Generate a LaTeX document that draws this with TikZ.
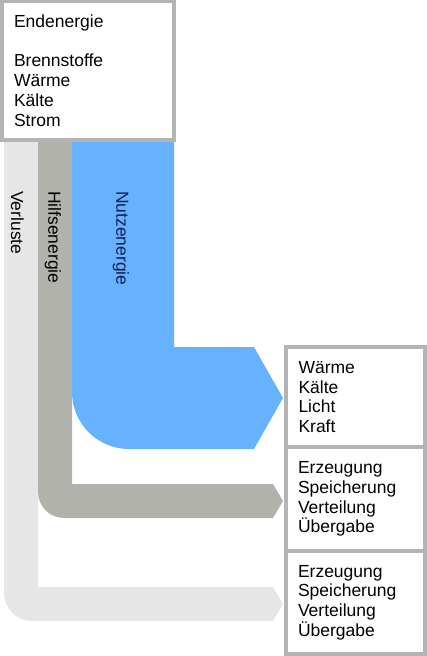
\documentclass[tikz,border=0pt]{standalone}
\usepackage{fontspec}
\setmainfont{Liberation Sans}
\usetikzlibrary{positioning}
\definecolor{nutzblue}{RGB}{102, 178, 255}
\definecolor{hilfgray}{RGB}{178, 178, 172}
\definecolor{verlustgray}{RGB}{230, 230, 230}
\definecolor{boxgray}{RGB}{180, 180, 180}
\definecolor{navy}{RGB}{20, 30, 90}
\def\rnutz{57}
\def\rhilf{26}
\def\rverl{28}
\tikzset{
  kasten/.style={draw=boxgray, line width=4pt, fill=white, outer sep=0pt,
    inner ysep=0pt, align=left, font=\fontsize{17.5}{19.7}\selectfont},
  bandlabel/.style={font=\fontsize{17.5}{19.7}\selectfont, rotate=-90,
    anchor=west, inner sep=0pt}
}
\begin{document}
\begin{tikzpicture}[x=1pt, y=-1pt, line cap=round]

                 \useasboundingbox (0, 0) rectangle (427, 656);

                 \path[fill=verlustgray] (4, 141) -- (38, 141) -- (38, 587)
                 -- (273, 587) -- (283, 604) -- (273, 621)
                 -- (4 + \rverl, 621)
                 arc[start angle=90, end angle=180, radius=\rverl] -- cycle;

                 \path[fill=hilfgray] (38, 141) -- (72, 141) -- (72, 484)
                 -- (273, 484) -- (283, 501) -- (273, 518)
                 -- (38 + \rhilf, 518)
                 arc[start angle=90, end angle=180, radius=\rhilf] -- cycle;

                 \path[fill=nutzblue] (72, 141) -- (174, 141) -- (174, 347)
                 -- (254, 347) -- (283, 398) -- (254, 449)
                 -- (72 + \rnutz, 449)
                 arc[start angle=90, end angle=180, radius=\rnutz] -- cycle;

                 \node[bandlabel] (verluste) at (17.5, 191) {Verluste};
                 \node[bandlabel] (hilfsenergie) at (53, 191) {Hilfsenergie};
                 \node[bandlabel, text=navy] (nutzenergie) at (121, 191) {Nutzenergie};

                 \node[kasten, anchor=north west, inner xsep=12pt, text width=148pt,
                 minimum height=139pt] (endenergie) at (2, 1)
                 {Endenergie\\[\baselineskip]Brennstoffe\\Wärme\\Kälte\\Strom};

                 \node[kasten, anchor=north west, inner xsep=13pt, text width=113.5pt,
                 minimum height=100pt] (nutzung) at (285.5, 347)
                 {Wärme\\Kälte\\Licht\\Kraft};
                 \node[kasten, below=0pt of nutzung, inner xsep=12.5pt, text width=114.5pt,
                 minimum height=104pt] (technik)
                 {Erzeugung\\Speicherung\\Verteilung\\Übergabe};
                 \node[kasten, below=0pt of technik, inner xsep=12.5pt, text width=114.5pt,
                 minimum height=103pt] (verlust)
                 {Erzeugung\\Speicherung\\Verteilung\\Übergabe};

             \end{tikzpicture}
\end{document}
